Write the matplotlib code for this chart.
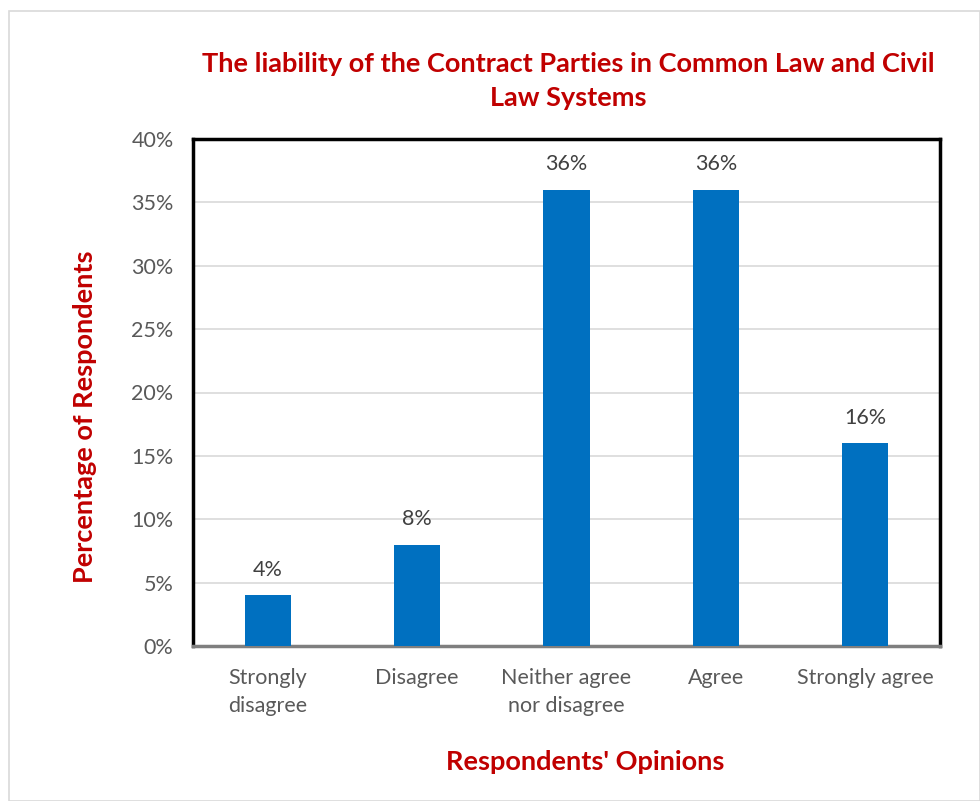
import matplotlib
matplotlib.use("Agg")
import matplotlib.pyplot as plt
from matplotlib.patches import Rectangle
from matplotlib.ticker import PercentFormatter

categories = ["Strongly\ndisagree", "Disagree", "Neither agree\nnor disagree", "Agree", "Strongly agree"]
values = [4, 8, 36, 36, 16]
yticks = [0, 5, 10, 15, 20, 25, 30, 35, 40]

plt.rcParams['font.family'] = ['Lato', 'DejaVu Sans']

fig = plt.figure(figsize=(9.8, 8.01), dpi=100)
fig.patches.append(Rectangle((9/980, 0), (980-9)/980, (801-11)/801, transform=fig.transFigure,
                             fill=False, edgecolor='#d9d9d9', linewidth=1.2))

ax = fig.add_axes([193/980, 155/801, (940-193)/980, (646-139)/801])
x = range(len(categories))
bars = ax.bar(x, values, width=0.31, color='#0070C0', zorder=3)
for xi, v in zip(x, values):
    ax.text(xi, v + 1.2, f"{v}%", ha='center', va='bottom', fontsize=15.5, color='#404040')

ax.set_ylim(0, 40)
ax.set_xlim(-0.5, len(categories) - 0.5)
ax.set_yticks(yticks)
ax.yaxis.set_major_formatter(PercentFormatter(decimals=0))
ax.set_xticks(list(x))
ax.set_xticklabels(categories, linespacing=1.5)
ax.tick_params(axis='both', length=0, labelsize=15.5, labelcolor='#595959')
ax.tick_params(axis='x', pad=16)
ax.tick_params(axis='y', pad=14)
ax.grid(axis='y', color='#d9d9d9', linewidth=1.2, zorder=0)
for s in ax.spines.values():
    s.set_linewidth(2.5)
    s.set_color('black')
ax.spines['bottom'].set_color('#7f7f7f')

fig.text(85/980, 1 - 417/801, "Percentage of Respondents", rotation=90, ha='center', va='center',
         fontsize=19.5, fontweight='bold', color='#C00000')
fig.text(585/980, 1 - 762/801, "Respondents' Opinions", ha='center', va='center',
         fontsize=19.5, fontweight='bold', color='#C00000')
fig.text(568/980, 1 - 81/801, "The liability of the Contract Parties in Common Law and Civil\nLaw Systems",
         ha='center', va='center', fontsize=19.5, fontweight='bold', color='#C00000', linespacing=1.5)

fig.savefig("out.png", dpi=100)
